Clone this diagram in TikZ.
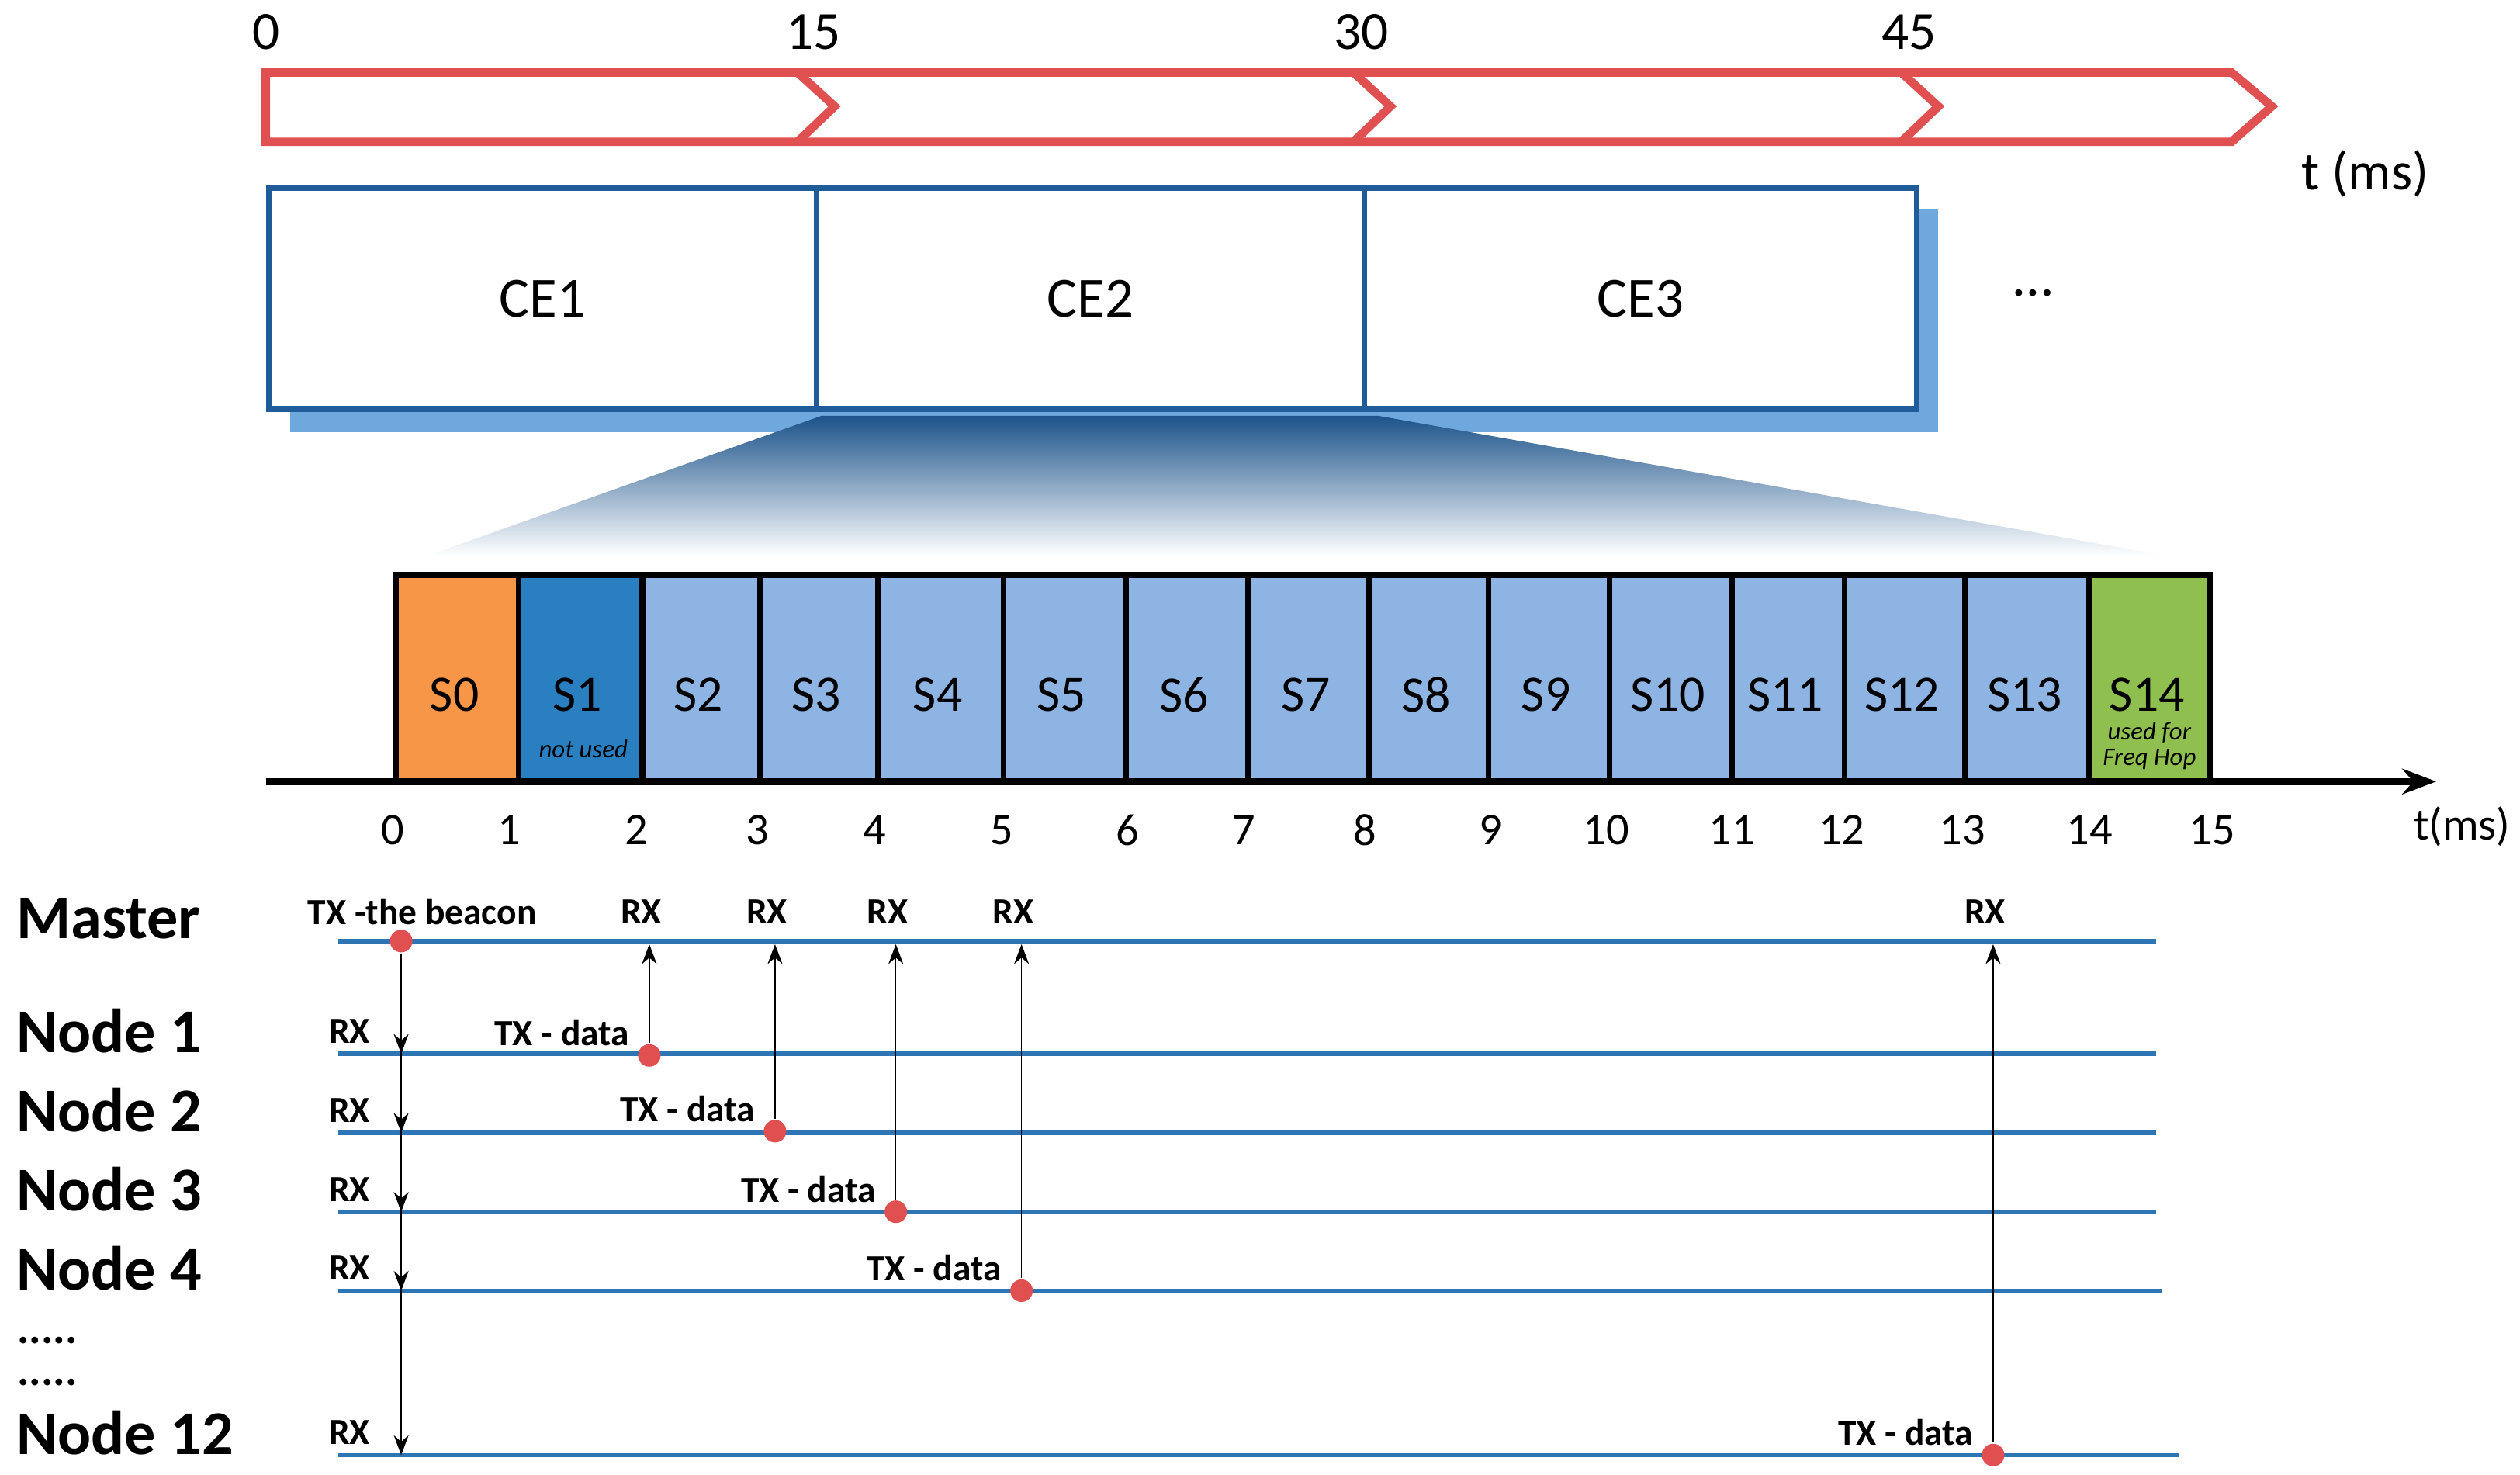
\documentclass[tikz,border=0pt]{standalone}
\usepackage{fontspec}
\setmainfont{Carlito}
\usetikzlibrary{positioning,arrows.meta,shadows}
\definecolor{frameblue}{HTML}{1F5C99}
\definecolor{shadowblue}{HTML}{6FA8DC}
\definecolor{slotblue}{HTML}{8DB4E2}
\definecolor{darkslot}{HTML}{2A7FC0}
\definecolor{slotorange}{HTML}{F79646}
\definecolor{slotgreen}{HTML}{8FBF4F}
\definecolor{lineblue}{HTML}{2E75B6}
\definecolor{arrowred}{HTML}{E05050}

\begin{document}
\begin{tikzpicture}[x=0.02cm, y=-0.02cm, thick,
  ce/.style = {draw=frameblue, line width=2pt, fill=white, minimum width=6.8cm, minimum height=2.74cm, anchor=north west, font=\fontsize{20}{22}\selectfont},
  slot/.style = {draw, line width=2pt, fill=slotblue, anchor=north west, minimum height=2.56cm},
  slotname/.style = {font=\fontsize{18}{20}\selectfont, inner sep=1pt},
  tick/.style = {font=\fontsize{16}{18}\selectfont},
  who/.style = {anchor=west, font=\fontsize{22}{24}\selectfont\bfseries},
  lbl/.style = {font=\fontsize{13}{15}\selectfont\bfseries},
  link/.style = {lineblue, line width=1.5pt},
  dot/.style = {circle, fill=arrowred, inner sep=0pt, minimum size=0.28cm},
  msg/.style = {-{Stealth[length=7pt]}, thin}]
\useasboundingbox (0,0) rectangle (1564,915);

% time line at the top
\draw[arrowred, line width=3pt, fill=white, line join=miter]
  (165,45) -- (1385,45) -- (1410,66) -- (1385,88) -- (165,88) -- cycle;
\foreach \x in {500,845,1185}
  \draw[arrowred, line width=3pt] (\x-5,45) -- (\x+18,66) -- (\x-5,88);
\foreach \x/\t in {165/0,505/15,845/30,1185/45}
  \node[font=\fontsize{19}{21}\selectfont] at (\x,20) {\t};
\node[font=\fontsize{19}{21}\selectfont] (tms) at (1468,108) {t (ms)};

% connection events
\fill[shadowblue] (180,130) rectangle (1203,268);
\node[ce] (ce1) at (165,115) {CE1};
\node[ce] (ce2) at (505,115) {CE2};
\node[ce, minimum width=6.86cm] (ce3) at (845,115) {CE3};
\node[font=\fontsize{20}{22}\selectfont] (more) at (1262,182) {\dots};

% zoom into CE2
\shade[top color=frameblue!90!black, bottom color=white]
  (510,258) -- (855,258) -- (1345,345) -- (265,345) -- cycle;

% slots
\foreach \i/\a/\b/\c in {0/244/320/slotorange,1/320/397/darkslot,2/397/470/slotblue,3/470/543/slotblue,4/543/621/slotblue,5/621/697/slotblue,6/697/773/slotblue,7/773/848/slotblue,8/848/922/slotblue,9/922/997/slotblue,10/997/1073/slotblue,11/1073/1143/slotblue,12/1143/1218/slotblue,13/1218/1295/slotblue,14/1295/1370/slotgreen}
{
  \node[slot, fill=\c, minimum width=\b*0.02cm-\a*0.02cm] (s\i) at (\a,355) {};
  \node[slotname] at ({(\a+\b)/2},431) {S\i};
}
\node[font=\fontsize{9}{10}\selectfont\itshape, inner sep=0pt] at (362,465) {not used};
\node[font=\fontsize{9}{9}\selectfont\itshape, align=center, inner sep=0pt] at (1334,463) {used for\\Freq Hop};

\coordinate (axs) at (165,485);
\coordinate (axe) at (1512,485);
\draw[line width=2.5pt, -{Stealth[length=12pt]}] (axs) -- (axe);
\foreach \x/\t in {244/0,316/1,395/2,470/3,543/4,622/5,700/6,772/7,847/8,925/9,997/10,1075/11,1143/12,1218/13,1297/14,1373/15}
  \node[tick] at (\x,515) {\t};
\node[tick] at (1528,513) {t(ms)};

% devices
\foreach \n/\y/\t/\l in {m/584/Master/1338,n1/654/Node 1/1338,n2/703/Node 2/1338,n3/752/Node 3/1338,n4/801/Node 4/1342,n12/903/Node 12/1352}
{
  \coordinate (\n a) at (210,\y);
  \coordinate (\n b) at (\l,\y);
  \draw[link] (\n a) -- (\n b);
  \node[who, inner sep=1pt] at (8,\y-14) {\t};
}
\node[who, font=\fontsize{16}{16}\selectfont\bfseries, inner sep=0pt] at (10,832) {.....};
\node[who, font=\fontsize{16}{16}\selectfont\bfseries, inner sep=0pt] at (10,858) {.....};

% beacon
\node[dot] (bm) at (249,584) {};
\node[lbl] at (262,566) {TX -the beacon};
\foreach \n/\y in {n1/654,n2/703,n3/752,n4/801,n12/903}
{
  \coordinate (r\n) at (249,\y);
  \draw[msg] (bm) -- (r\n);
  \node[lbl] at (217,\y-14) {RX};
}

% data
\foreach \n/\x/\y in {n1/403/655,n2/481/702,n3/556/752,n4/634/801,n12/1237/903}
{
  \node[dot] (d\n) at (\x,\y) {};
  \coordinate (m\n) at (\x,586);
  \draw[msg] (d\n) -- (m\n);
  \node[lbl, anchor=east] at (\x-6,\y-14) {TX - data};
  \node[lbl] at (\x-5,566) {RX};
}
\end{tikzpicture}
\end{document}
